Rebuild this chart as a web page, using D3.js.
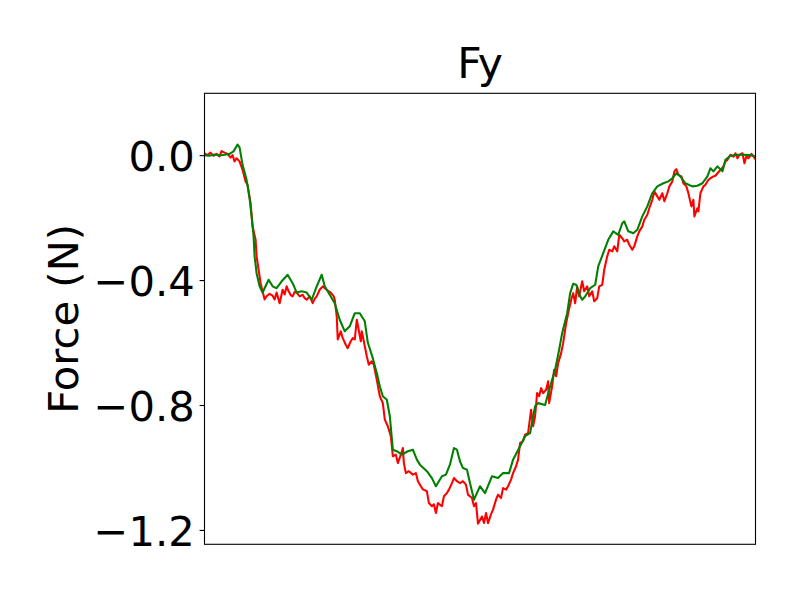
<!DOCTYPE html>
<html>
<head>
<meta charset="utf-8">
<script src="https://cdn.jsdelivr.net/npm/d3@7"></script>
<style>
  html, body { margin: 0; padding: 0; background: #fff; }
  svg { display: block; }
  text { font-family: "DejaVu Sans", sans-serif; fill: #000; }
</style>
</head>
<body>
<svg id="chart" width="800" height="600"></svg>
<script>
// ---- data (sample index, force in N) ----
const chartTitle = "Fy";
const yLabel = "Force (N)";
const yTicks = [0.0, -0.4, -0.8, -1.2];

const redT = [0,3,6,9,12,15,17,20,23,26,28,30,32,35,38,41,43,46,48,51,52,54,56,58,60,62,65,68,70,72,75,78,80,82,84,86,88,90,92,95,98,100,102,105,108,110,112,115,118,120,122,126,129,130,132,133,136,138,141,143,146,148,150,152,153,156,157,159,162,164,167,169,172,175,178,180,183,186,188,191,193,196,198,199,201,204,208,211,213,216,218,222,224,227,229,231,233,237,239,242,244,247,249,252,255,258,261,263,267,269,271,273,277,279,281,283,286,288,291,293,296,298,301,303,306,308,311,313,315,318,320,323,326,328,330,332,334,336,338,341,343,344,347,349,351,353,356,358,361,363,366,368,370,372,374,377,379,382,384,387,389,392,394,397,399,402,404,407,409,412,414,417,419,422,424,427,429,432,434,437,439,442,444,447,449,452,454,457,459,462,464,467,469,471,473,476,478,481,483,486,488,489,492,493,495,498,500,503,505,508,510,512,515,518,520,522,525,528,530,532,534,537,539,541,543,546,548,550];
const redF = [0.006,0.000,0.008,-0.002,0.004,-0.004,0.013,0.008,0.004,-0.008,0.000,-0.020,-0.010,-0.020,-0.047,-0.084,-0.095,-0.154,-0.228,-0.271,-0.324,-0.367,-0.410,-0.436,-0.462,-0.452,-0.444,-0.450,-0.462,-0.440,-0.474,-0.431,-0.446,-0.420,-0.436,-0.448,-0.452,-0.438,-0.440,-0.452,-0.447,-0.458,-0.463,-0.452,-0.474,-0.460,-0.452,-0.431,-0.420,-0.426,-0.431,-0.440,-0.452,-0.463,-0.516,-0.590,-0.564,-0.586,-0.607,-0.618,-0.596,-0.586,-0.590,-0.527,-0.543,-0.596,-0.564,-0.596,-0.644,-0.671,-0.660,-0.671,-0.719,-0.772,-0.794,-0.847,-0.868,-0.900,-0.964,-0.959,-0.986,-0.959,-0.938,-0.986,-1.018,-1.012,-1.023,-1.018,-1.044,-1.060,-1.070,-1.076,-1.114,-1.124,-1.118,-1.146,-1.114,-1.124,-1.092,-1.082,-1.071,-1.050,-1.034,-1.044,-1.050,-1.044,-1.055,-1.087,-1.098,-1.124,-1.114,-1.180,-1.157,-1.178,-1.146,-1.178,-1.150,-1.135,-1.103,-1.087,-1.098,-1.066,-1.071,-1.060,-1.039,-1.018,-0.996,-0.975,-0.922,-0.916,-0.895,-0.890,-0.815,-0.868,-0.836,-0.762,-0.772,-0.746,-0.762,-0.751,-0.724,-0.794,-0.740,-0.687,-0.708,-0.666,-0.634,-0.602,-0.538,-0.506,-0.463,-0.442,-0.474,-0.420,-0.452,-0.404,-0.436,-0.420,-0.452,-0.436,-0.468,-0.458,-0.420,-0.415,-0.367,-0.324,-0.303,-0.308,-0.292,-0.308,-0.255,-0.266,-0.276,-0.271,-0.287,-0.303,-0.292,-0.260,-0.244,-0.228,-0.207,-0.191,-0.170,-0.143,-0.116,-0.132,-0.143,-0.122,-0.148,-0.122,-0.100,-0.084,-0.052,-0.045,-0.063,-0.068,-0.090,-0.100,-0.122,-0.164,-0.143,-0.196,-0.170,-0.180,-0.122,-0.100,-0.095,-0.079,-0.074,-0.068,-0.066,-0.058,-0.047,-0.036,-0.020,-0.015,0.001,-0.005,0.006,-0.010,0.001,0.006,-0.026,-0.002,-0.010,0.004,-0.004,-0.013];

const greenT = [0,5,10,15,20,25,29,33,35,38,42,45,47,49,50,52,55,58,60,64,68,72,77,83,88,92,97,102,107,112,117,120,125,130,133,135,140,145,150,155,160,163,168,172,175,178,182,185,188,192,197,203,208,212,215,222,227,231,237,241,245,249,252,255,258,262,265,269,275,280,287,293,298,304,308,315,320,325,330,333,340,345,350,354,357,362,365,368,371,375,377,380,385,390,393,398,403,408,413,417,419,423,428,432,437,442,447,452,458,463,467,471,475,480,487,492,497,502,505,508,512,517,520,525,532,538,545,550];
const greenF = [0.000,-0.002,0.002,-0.001,0.001,0.004,0.012,0.034,0.025,-0.031,-0.079,-0.138,-0.196,-0.260,-0.324,-0.378,-0.420,-0.440,-0.426,-0.399,-0.420,-0.426,-0.404,-0.383,-0.410,-0.440,-0.436,-0.440,-0.463,-0.420,-0.383,-0.420,-0.447,-0.474,-0.506,-0.527,-0.564,-0.548,-0.506,-0.506,-0.532,-0.600,-0.650,-0.698,-0.740,-0.772,-0.783,-0.836,-0.943,-0.948,-0.959,-0.948,-0.943,-0.975,-0.991,-1.012,-1.034,-1.060,-1.028,-1.023,-0.991,-0.938,-0.943,-0.980,-1.002,-1.007,-1.050,-1.103,-1.060,-1.082,-1.028,-1.034,-1.018,-1.018,-0.975,-0.932,-0.900,-0.890,-0.804,-0.794,-0.800,-0.740,-0.687,-0.623,-0.570,-0.506,-0.442,-0.412,-0.415,-0.452,-0.463,-0.452,-0.426,-0.415,-0.356,-0.314,-0.271,-0.244,-0.255,-0.218,-0.212,-0.244,-0.250,-0.239,-0.196,-0.164,-0.122,-0.100,-0.090,-0.084,-0.074,-0.058,-0.068,-0.090,-0.100,-0.098,-0.090,-0.068,-0.042,-0.052,-0.036,-0.052,-0.015,-0.002,0.001,0.001,0.000,-0.004];

// ---- layout ----
const svg = d3.select("#chart");
const L = 204.5, R = 755.5, T = 93.3, B = 544.3;
const fs = 41.7;

const x = d3.scaleLinear().domain([0, 550]).range([L, R]);
const y = d3.scaleLinear().domain([-1.246, 0.198]).range([B, T]);

const red = redT.map((t, i) => [t, redF[i]]);
const green = greenT.map((t, i) => [t, greenF[i]]);

const line = d3.line().x(d => x(d[0])).y(d => y(d[1]));

const clip = svg.append("clipPath").attr("id", "clip")
  .append("rect").attr("x", L).attr("y", T).attr("width", R - L).attr("height", B - T);

const g = svg.append("g").attr("clip-path", "url(#clip)");
g.append("path").datum(red).attr("d", line)
  .attr("fill", "none").attr("stroke", "#ff0000").attr("stroke-width", 2.08)
  .attr("stroke-linejoin", "round").attr("stroke-linecap", "square");
g.append("path").datum(green).attr("d", line)
  .attr("fill", "none").attr("stroke", "#008000").attr("stroke-width", 2.08)
  .attr("stroke-linejoin", "round").attr("stroke-linecap", "square");

// frame
svg.append("rect").attr("x", L).attr("y", T).attr("width", R - L).attr("height", B - T)
  .attr("fill", "none").attr("stroke", "#000").attr("stroke-width", 1.1);

// y axis
const fmt = d => (d < 0 ? "\u2212" : "") + Math.abs(d).toFixed(1);
const yAxis = d3.axisLeft(y).tickValues(yTicks).tickFormat(fmt).tickSize(4.9).tickPadding(4.9);
const ya = svg.append("g").attr("transform", `translate(${L},0)`).call(yAxis);
ya.select(".domain").remove();
ya.selectAll(".tick line").attr("stroke", "#000").attr("stroke-width", 1.1);
ya.selectAll(".tick text")
  .attr("font-family", "DejaVu Sans, sans-serif")
  .attr("font-size", fs)
  .attr("fill", "#000")
  .attr("dy", "0.365em");

// y label
svg.append("text")
  .attr("transform", `translate(77.7, ${(T + B) / 2}) rotate(-90)`)
  .attr("text-anchor", "middle")
  .attr("font-size", fs)
  .text(yLabel);

// title
svg.append("text")
  .attr("x", (L + R) / 2).attr("y", 78.3)
  .attr("text-anchor", "middle")
  .attr("font-size", 42.5)
  .text(chartTitle);
</script>
</body>
</html>
